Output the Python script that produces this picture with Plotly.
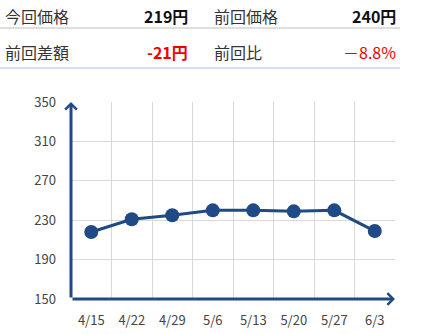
import plotly.graph_objects as go

dates = ["4/15", "4/22", "4/29", "5/6", "5/13", "5/20", "5/27", "6/3"]
prices = [218, 231, 235, 240, 240, 239, 240, 219]
y_ticks = [150, 190, 230, 270, 310, 350]

current_label, current_value = "今回価格", "219円"
prev_label, prev_value = "前回価格", "240円"
diff_label, diff_value = "前回差額", "-21円"
ratio_label, ratio_value = "前回比", "－8.8%"

W, H = 428, 334
L, R, T, B = 71, 33, 102, 35
PW, PH = W - L - R, H - T - B

def px(x):
    return (x - L) / PW

def py(y):
    return (H - B - y) / PH

BLUE = "#1f4a86"
RED = "#ee0000"
TXT = "#333333"
FONT = "Noto Sans CJK JP"

fig = go.Figure()
fig.add_trace(go.Scatter(
    x=dates, y=prices, mode="lines+markers",
    line=dict(color=BLUE, width=3),
    marker=dict(color=BLUE, size=14),
    cliponaxis=False, hoverinfo="skip",
))

annotations = []
annotations.append(dict(x=-0.5, y=y_ticks[-1], ax=-0.5, ay=y_ticks[0], xref="x", yref="y",
                        axref="x", ayref="y", showarrow=True, arrowhead=4, arrowsize=0.75,
                        arrowwidth=3, arrowcolor=BLUE, text="", standoff=0))
annotations.append(dict(x=len(dates) - 0.5, y=y_ticks[0], ax=-0.5, ay=y_ticks[0], xref="x", yref="y",
                        axref="x", ayref="y", showarrow=True, arrowhead=4, arrowsize=0.75,
                        arrowwidth=3, arrowcolor=BLUE, text="", standoff=0))

def txt(x, y, s, anchor, color=TXT, bold=False):
    annotations.append(dict(
        x=px(x), y=py(y), xref="paper", yref="paper", xanchor=anchor, yanchor="middle",
        text=f"<b>{s}</b>" if bold else s, showarrow=False,
        font=dict(family=FONT, size=16, color=color),
    ))

txt(3, 16, current_label, "left")
txt(190, 16, current_value, "right", "#111111", True)
txt(212, 16, prev_label, "left")
txt(398, 16, prev_value, "right", "#111111", True)
txt(3, 52, diff_label, "left")
txt(190, 52, diff_value, "right", RED, True)
txt(212, 52, ratio_label, "left")
txt(398, 52, ratio_value, "right", RED)

shapes = [
    dict(type="line", xref="paper", yref="paper", x0=px(0), x1=px(400), y0=py(28), y1=py(28),
         line=dict(color="#d3d3d3", width=1.5)),
    dict(type="line", xref="paper", yref="paper", x0=px(0), x1=px(400), y0=py(68), y1=py(68),
         line=dict(color="#c0d5ee", width=1.5)),
]

fig.update_layout(
    width=W, height=H,
    margin=dict(l=L, r=R, t=T, b=B, pad=0, autoexpand=False),
    paper_bgcolor="white", plot_bgcolor="white",
    showlegend=False,
    annotations=annotations,
    shapes=shapes,
    font=dict(family=FONT, color="#444444", size=12),
    xaxis=dict(
        type="category", range=[-0.5, len(dates) - 0.5], tickson="boundaries",
        showgrid=True, gridcolor="#d9d9d9", gridwidth=1, showline=False, zeroline=False,
        ticks="", ticklabelstandoff=12, automargin=False,
        tickfont=dict(family=FONT, size=13, color="#444444"),
    ),
    yaxis=dict(
        range=[y_ticks[0], y_ticks[-1]], tickvals=y_ticks,
        showgrid=True, gridcolor="#d9d9d9", gridwidth=1, showline=False, zeroline=False,
        ticks="", ticklabelstandoff=14, automargin=False,
        tickfont=dict(family=FONT, size=13, color="#444444"),
    ),
)

fig.write_html("out.html")
